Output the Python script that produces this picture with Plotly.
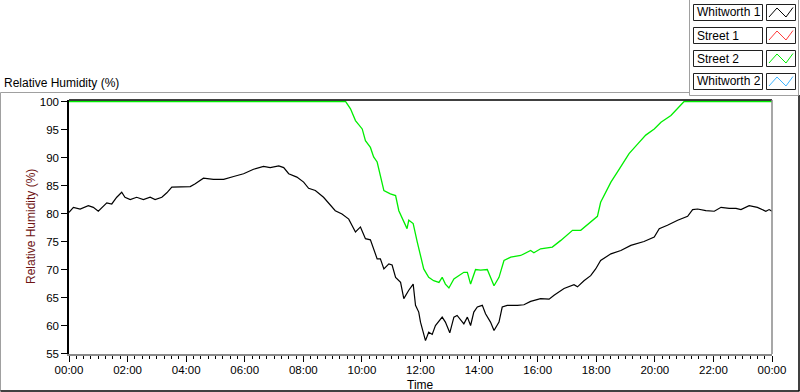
import pandas as pd
import plotly.graph_objects as go

# ---------------- data ----------------
w1_hours = [0.00, 0.15, 0.38, 0.66, 0.83, 1.00, 1.29, 1.46, 1.63, 1.80, 1.91, 2.09, 2.31, 2.54,
            2.77, 2.94, 3.17, 3.34, 3.51, 3.79, 4.14, 4.31, 4.59, 4.93, 5.28, 5.62, 5.96, 6.30,
            6.64, 6.87, 7.16, 7.33, 7.50, 7.78, 8.01, 8.18, 8.41, 8.69, 8.92, 9.09, 9.32, 9.55,
            9.78, 9.95, 10.12, 10.29, 10.52, 10.63, 10.75, 10.92, 11.03, 11.15, 11.32, 11.43,
            11.60, 11.75, 11.83, 11.94, 12.00, 12.17, 12.28, 12.40, 12.51, 12.74, 12.85, 13.00,
            13.14, 13.25, 13.48, 13.60, 13.71, 13.82, 13.94, 14.11, 14.22, 14.39, 14.51, 14.68,
            14.79, 14.96, 15.31, 15.53, 15.76, 16.10, 16.39, 16.56, 16.90, 17.24, 17.36, 17.58,
            17.81, 17.98, 18.15, 18.50, 18.84, 19.18, 19.63, 19.98, 20.15, 20.43, 20.78, 20.89,
            21.12, 21.29, 21.46, 21.74, 22.03, 22.26, 22.54, 22.77, 22.94, 23.22, 23.50, 23.79,
            23.90, 24.00]
w1_values = [80.2, 81.1, 80.8, 81.4, 81.1, 80.4, 81.9, 81.7, 82.9, 83.8, 82.9, 82.5, 82.9, 82.5,
             82.9, 82.5, 82.9, 83.7, 84.7, 84.7, 84.8, 85.3, 86.3, 86.1, 86.1, 86.6, 87.1, 87.9,
             88.4, 88.2, 88.5, 88.2, 87.1, 86.5, 85.6, 84.5, 84.1, 82.9, 81.5, 80.5, 79.9, 79.0,
             76.7, 77.6, 75.5, 75.3, 71.9, 71.9, 70.1, 71.0, 70.8, 68.6, 67.7, 64.8,
             66.3, 67.4, 63.6, 62.4, 60.6, 57.3, 58.8, 58.4, 60.0, 61.5, 60.6, 58.7,
             61.5, 61.8, 60.3, 61.5, 60.0, 62.4, 63.3, 63.6, 62.1, 60.6, 59.1, 60.6,
             63.3, 63.6, 63.6, 63.7, 64.3, 64.8, 64.7, 65.4, 66.6, 67.3, 66.9, 68.0,
             68.9, 70.1, 71.6, 72.8, 73.4, 74.3, 75.0, 75.8, 77.3, 77.9, 78.8, 79.0,
             79.5, 80.7, 80.8, 80.5, 80.4, 81.1, 80.9, 80.9, 80.7, 81.4, 81.1, 80.4,
             80.7, 80.4]

s2_hours = [0.00, 9.44, 9.61, 9.78, 10.01, 10.12, 10.29, 10.40, 10.52, 10.63, 10.75, 10.97,
            11.15, 11.26, 11.37, 11.54, 11.60, 11.75, 11.89, 12.00, 12.11, 12.28, 12.45, 12.63,
            12.74, 12.85, 12.97, 13.14, 13.31, 13.48, 13.60, 13.71, 13.88, 14.05, 14.28, 14.39,
            14.51, 14.68, 14.85, 15.08, 15.42, 15.76, 15.87, 16.10, 16.50, 16.79, 17.19, 17.47,
            17.81, 18.04, 18.15, 18.32, 18.50, 18.72, 18.95, 19.12, 19.41, 19.69, 19.98, 20.21,
            20.55, 20.84, 21.00, 24.00]
s2_values = [100.0, 100.0, 98.7, 96.6, 95.1, 93.0, 91.8, 90.1, 89.2, 86.8, 84.1, 83.5,
             83.2, 80.5, 79.3, 77.3, 78.8, 78.2, 74.9, 72.5, 70.1, 68.6, 68.0, 67.7,
             68.6, 67.4, 66.7, 68.3, 68.9, 69.5, 69.5, 67.4, 70.0, 69.9, 70.0, 68.6,
             67.1, 68.6, 71.6, 72.2, 72.5, 73.4, 73.0, 73.7, 74.0, 75.2, 77.0, 77.0,
             78.4, 79.5, 82.0, 83.8, 85.6, 87.4, 89.2, 90.7, 92.4, 94.0, 95.1, 96.3,
             97.5, 99.0, 100.0, 100.0]

legend_names = ["Whitworth 1", "Street 1", "Street 2", "Whitworth 2"]
legend_colors = ["#000000", "#ff3b3b", "#00ee00", "#3fb4ff"]
y_ticks = [55, 60, 65, 70, 75, 80, 85, 90, 95, 100]
chart_title = "Relative Humidity (%)"
x_title = "Time"

base = pd.Timestamp("2024-01-01")
w1_x = base + pd.to_timedelta(w1_hours, unit="h")
s2_x = base + pd.to_timedelta(s2_hours, unit="h")

# ---------------- geometry ----------------
W, H = 800, 392
L, R, T, B = 69, 28, 100, 38
PW, PH = W - L - R, H - T - B


def px(x):
    return (x - L) / PW


def py(y):
    return (H - B - y) / PH


FONT = "Liberation Sans"

fig = go.Figure()
fig.add_trace(go.Scatter(x=w1_x, y=w1_values, mode="lines", name=legend_names[0],
                         line=dict(color=legend_colors[0], width=1.2), showlegend=False))
fig.add_trace(go.Scatter(x=s2_x, y=s2_values, mode="lines", name=legend_names[2],
                         line=dict(color=legend_colors[2], width=1.3), showlegend=False))

shapes = []
annotations = []

# plot frame: top black, right gray
shapes.append(dict(type="line", xref="paper", yref="paper", x0=0, x1=1, y0=1, y1=1,
                   line=dict(color="#000000", width=1.5), layer="above"))
shapes.append(dict(type="line", xref="paper", yref="paper", x0=1, x1=1, y0=0, y1=1,
                   line=dict(color="#8a8a8a", width=1.5), layer="above"))

# outer chart frame
shapes.append(dict(type="line", xref="paper", yref="paper", x0=px(0.5), x1=px(689), y0=py(92.5), y1=py(92.5),
                   line=dict(color="#a0a0a0", width=1)))
shapes.append(dict(type="line", xref="paper", yref="paper", x0=px(0.5), x1=px(0.5), y0=py(92.5), y1=py(391),
                   line=dict(color="#a0a0a0", width=1)))
shapes.append(dict(type="line", xref="paper", yref="paper", x0=px(0.5), x1=px(799.5), y0=py(391), y1=py(391),
                   line=dict(color="#000000", width=1.5)))
shapes.append(dict(type="line", xref="paper", yref="paper", x0=px(799), x1=px(799), y0=py(95), y1=py(391),
                   line=dict(color="#000000", width=1.5)))

# legend panel
shapes.append(dict(type="line", xref="paper", yref="paper", x0=px(689.5), x1=px(689.5), y0=py(0), y1=py(95.5),
                   line=dict(color="#a0a0a0", width=1)))
shapes.append(dict(type="line", xref="paper", yref="paper", x0=px(689.5), x1=px(798.5), y0=py(95.5), y1=py(95.5),
                   line=dict(color="#a0a0a0", width=1)))
shapes.append(dict(type="line", xref="paper", yref="paper", x0=px(798.5), x1=px(798.5), y0=py(0), y1=py(95.5),
                   line=dict(color="#a0a0a0", width=1)))

row_tops = [4, 27, 50, 73]
for name, color, top in zip(legend_names, legend_colors, row_tops):
    shapes.append(dict(type="rect", xref="paper", yref="paper",
                       x0=px(693.5), x1=px(762.5), y0=py(top + 16.5), y1=py(top + 0.5),
                       line=dict(color="#202020", width=1), fillcolor="white"))
    shapes.append(dict(type="rect", xref="paper", yref="paper",
                       x0=px(766.5), x1=px(795.5), y0=py(top + 16.5), y1=py(top + 0.5),
                       line=dict(color="#202020", width=1), fillcolor="white"))
    pts = [(769, top + 13), (777, top + 4), (786, top + 13), (793, top + 3.5)]
    path = "M " + " L ".join(f"{px(a):.5f},{py(b):.5f}" for a, b in pts)
    shapes.append(dict(type="path", xref="paper", yref="paper", path=path,
                       line=dict(color=color, width=1)))
    annotations.append(dict(xref="paper", yref="paper", x=px(695), y=py(top + 8.5),
                            text=name, showarrow=False, xanchor="left", yanchor="middle",
                            font=dict(family=FONT, size=12, color="#000000")))

# chart title
annotations.append(dict(xref="paper", yref="paper", x=px(2), y=py(83), text=chart_title,
                        showarrow=False, xanchor="left", yanchor="middle",
                        font=dict(family=FONT, size=12, color="#000000")))
# y-axis title
annotations.append(dict(xref="paper", yref="paper", x=px(31), y=py(227), text=chart_title,
                        showarrow=False, xanchor="center", yanchor="middle", textangle=-90,
                        font=dict(family=FONT, size=12, color="#6e1414")))
# x-axis title
annotations.append(dict(xref="paper", yref="paper", x=px(420.5), y=py(385), text=x_title,
                        showarrow=False, xanchor="center", yanchor="middle",
                        font=dict(family=FONT, size=12, color="#000000")))

fig.update_layout(
    width=W, height=H, autosize=False,
    margin=dict(l=L, r=R, t=T, b=B, pad=0),
    paper_bgcolor="white", plot_bgcolor="white",
    showlegend=False,
    shapes=shapes, annotations=annotations,
    font=dict(family=FONT, size=11.5, color="#000000"),
)
fig.update_xaxes(
    type="date",
    range=[base, base + pd.Timedelta(hours=24)],
    tick0=base, dtick=2 * 3600 * 1000, tickformat="%H:%M",
    ticks="outside", ticklen=6, tickwidth=1, tickcolor="#000000",
    ticklabelstandoff=-2,
    minor=dict(dtick=15 * 60 * 1000, ticks="outside", ticklen=3, tickwidth=1, tickcolor="#000000", showgrid=False),
    showline=True, linecolor="#8a8a8a", linewidth=1.5,
    showgrid=False, zeroline=False, fixedrange=True,
    tickfont=dict(family=FONT, size=11.5, color="#000000"),
)
fig.update_yaxes(
    range=[55 - 0.5 / 5.6, 100 + 1.5 / 5.6],
    tickvals=y_ticks,
    ticks="outside", ticklen=6, tickwidth=1, tickcolor="#000000",
    showline=True, linecolor="#000000", linewidth=1.5,
    showgrid=False, zeroline=False, fixedrange=True,
    tickfont=dict(family=FONT, size=11.5, color="#000000"),
)

fig.write_html("out.html", config={"displayModeBar": False},
               post_script="document.body.style.margin='0px';document.body.style.overflow='hidden';")
